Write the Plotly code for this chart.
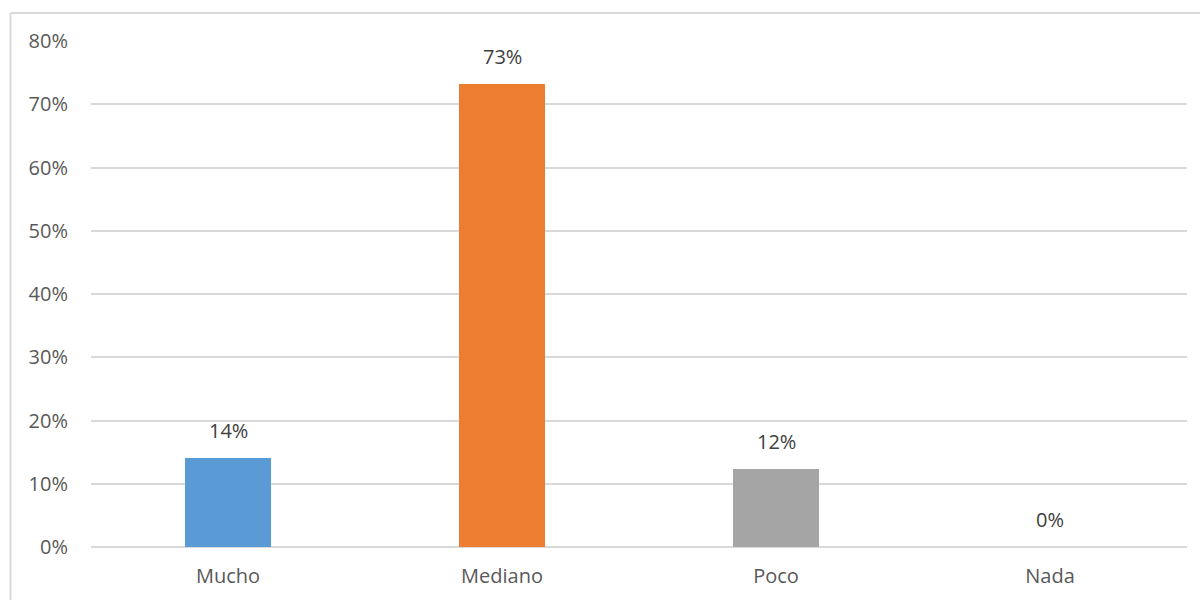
import plotly.graph_objects as go

categories = ["Mucho", "Mediano", "Poco", "Nada"]
values = [14.1, 73.2, 12.3, 0.0]
colors = ["#5B9BD5", "#ED7D31", "#A5A5A5", "#A5A5A5"]
y_ticks = [0, 10, 20, 30, 40, 50, 60, 70, 80]
y_tick_labels = [f"{t}%" for t in y_ticks]

font_family = "'Open Sans', sans-serif"
font_size = 20
text_color = "#595959"
grid_color = "#D9D9D9"

fig = go.Figure()
fig.add_trace(go.Bar(
    x=categories,
    y=values,
    marker=dict(color=colors, line=dict(width=0)),
    width=0.314,
    hoverinfo="skip",
))

# value labels above each bar
for cat, val in zip(categories, values):
    fig.add_annotation(
        x=cat, y=val, xref="x", yref="y",
        text=f"{val:.0f}%",
        showarrow=False,
        yanchor="bottom",
        yshift=12,
        font=dict(family=font_family, size=font_size, color="#404040"),
    )

# chart-area outline (left and top edges)
left_w, right_w = 91, 13
top_h, bot_h = 41, 53
pw = 1200 - left_w - right_w
ph = 600 - top_h - bot_h
bx = (10.5 - left_w) / pw
by = 1 + (top_h - 13) / ph
fig.add_shape(type="line", xref="paper", yref="paper",
              x0=bx, x1=bx, y0=-0.3, y1=by,
              line=dict(color=grid_color, width=2))
fig.add_shape(type="line", xref="paper", yref="paper",
              x0=bx, x1=1.05, y0=by, y1=by,
              line=dict(color=grid_color, width=2))

fig.update_layout(
    width=1200, height=600,
    margin=dict(l=left_w, r=right_w, t=top_h, b=bot_h),
    paper_bgcolor="white",
    plot_bgcolor="white",
    showlegend=False,
    bargap=0,
    font=dict(family=font_family, size=font_size, color=text_color),
)
fig.update_xaxes(
    showgrid=False,
    showline=False,
    ticks="",
    tickfont=dict(family=font_family, size=font_size, color=text_color),
    ticklabelstandoff=15,
)
fig.update_yaxes(
    range=[0, 80],
    tickvals=y_ticks,
    ticktext=y_tick_labels,
    showgrid=True,
    gridcolor=grid_color,
    gridwidth=2,
    zeroline=True,
    zerolinecolor=grid_color,
    zerolinewidth=2,
    showline=False,
    ticks="",
    ticklabelstandoff=22,
    tickfont=dict(family=font_family, size=font_size, color=text_color),
)

fig.write_html("out.html")
